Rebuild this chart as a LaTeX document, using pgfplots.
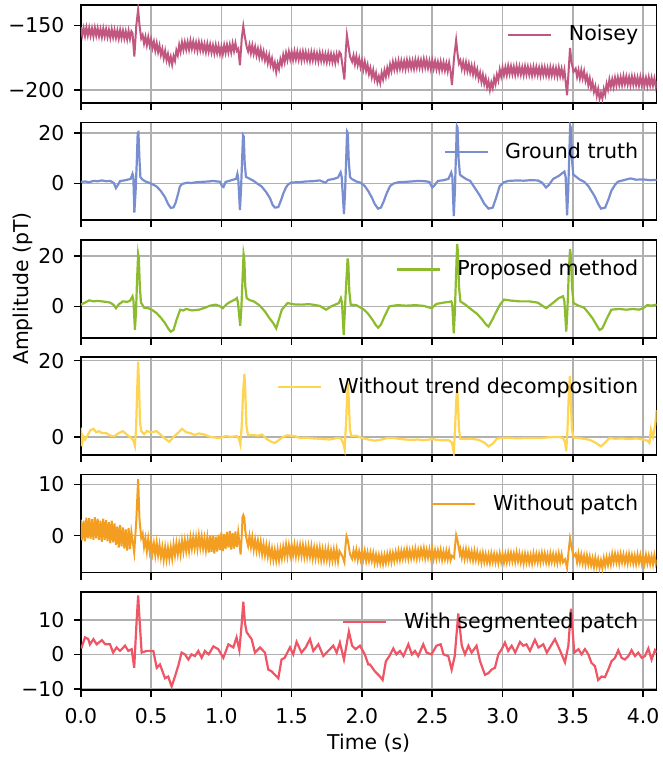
\documentclass[border=0pt]{standalone}
\usepackage{pgfplots}
\pgfplotsset{compat=1.18}
\usepackage{fontspec}
\setmainfont{DejaVu Sans}
\definecolor{cNoisy}{RGB}{193,87,128}
\definecolor{cGT}{RGB}{120,142,208}
\definecolor{cProp}{RGB}{140,188,45}
\definecolor{cTrend}{RGB}{255,212,80}
\definecolor{cPatch}{RGB}{243,158,32}
\definecolor{cSeg}{RGB}{239,85,101}
\definecolor{cGrid}{RGB}{176,176,176}
\pgfplotsset{
  panel/.style={
    scale only axis, width=288pt, height=49pt,
    xmin=0, xmax=4.096,
    xtick={0,0.5,1,1.5,2,2.5,3,3.5,4},
    xticklabels={},
    grid=major,
    major grid style={draw=cGrid, line width=0.8pt},
    axis line style={line width=0.8pt, black},
    tick align=outside, tick pos=left,
    major tick length=3.5pt,
    tick style={black, line width=0.8pt},
    yticklabel style={anchor=east, inner sep=0pt, xshift=-4.5pt},
    xticklabel style={anchor=north, inner sep=0pt, yshift=-5.5pt},
    legend style={at={(1,1)}, anchor=north east, xshift=-9pt, yshift=-10pt,
      draw=none, fill=none, inner sep=0pt, column sep=8.3pt,
      nodes={inner sep=0pt}, font=\fontsize{10.3}{12.4}\selectfont},
    legend image code/.code={\draw[#1] (0pt,0pt) -- (21.5pt,0pt);},
    every axis plot/.append style={line width=1.1pt},
    anchor=south west,
  }
}
\begin{document}
\fontsize{10.2}{12.2}\selectfont
\begin{tikzpicture}
\useasboundingbox (-40.4pt,-34.5pt) rectangle (291.15pt,345.1pt);
% Panel 1: Noisey
\begin{axis}[panel, at={(0pt,293.65pt)}, ymin=-209.8, ymax=-134.1, ytick={-200,-150}, yticklabels={−200,−150}]
\addplot[cNoisy, line width=1pt] coordinates {(0,-151.5)(0.01,-157.6)(0.02,-152.0)(0.03,-158.0)(0.04,-151.5)(0.05,-157.6)(0.06,-151.8)(0.07,-157.9)(0.08,-152.3)(0.09,-158.4)(0.1,-151.8)(0.11,-157.9)(0.12,-152.2)(0.13,-158.3)(0.14,-152.8)(0.15,-158.9)(0.16,-152.4)(0.17,-158.5)(0.18,-152.8)(0.19,-158.9)(0.2,-153.4)(0.21,-159.5)(0.22,-153.0)(0.23,-159.1)(0.24,-153.4)(0.25,-159.5)(0.26,-154.0)(0.27,-160.1)(0.28,-153.6)(0.29,-159.7)(0.3,-154.0)(0.31,-160.1)(0.32,-154.6)(0.33,-160.7)(0.34,-154.2)(0.35,-160.3)(0.36,-154.5)(0.368,-156)(0.381,-174)(0.395,-150)(0.408,-137.6)(0.418,-150)(0.43,-160)(0.44,-157.4)(0.45,-163.9)(0.46,-158.7)(0.47,-165.2)(0.48,-159.0)(0.49,-165.4)(0.5,-160.5)(0.51,-167.4)(0.52,-162.6)(0.53,-169.5)(0.54,-163.7)(0.55,-170.6)(0.56,-165.6)(0.57,-172.7)(0.58,-168.1)(0.59,-175.2)(0.6,-169.7)(0.61,-176.8)(0.62,-172.1)(0.63,-179.0)(0.64,-174.2)(0.65,-180.2)(0.66,-173.6)(0.67,-177.3)(0.68,-169.2)(0.69,-172.9)(0.7,-165.0)(0.71,-170.3)(0.72,-163.0)(0.73,-168.8)(0.74,-162.8)(0.75,-168.6)(0.76,-162.8)(0.77,-168.6)(0.78,-161.8)(0.79,-168.0)(0.8,-162.4)(0.81,-168.6)(0.82,-163.2)(0.83,-169.4)(0.84,-162.9)(0.85,-169.1)(0.86,-163.5)(0.87,-169.7)(0.88,-164.3)(0.89,-170.5)(0.9,-164.1)(0.91,-170.3)(0.92,-164.7)(0.93,-170.9)(0.94,-165.4)(0.95,-171.6)(0.96,-165.2)(0.97,-171.4)(0.98,-165.8)(0.99,-171.9)(1.0,-166.3)(1.01,-172.1)(1.02,-165.3)(1.03,-171.1)(1.04,-165.0)(1.05,-170.8)(1.06,-164.9)(1.07,-170.7)(1.08,-163.9)(1.09,-169.7)(1.1,-163.7)(1.11,-169.6)(1.12,-168)(1.132,-180.7)(1.145,-160)(1.156,-150.5)(1.166,-158)(1.18,-166.5)(1.19,-170.0)(1.2,-164.9)(1.21,-171.4)(1.22,-165.3)(1.23,-171.8)(1.24,-166.5)(1.25,-173.1)(1.26,-168.0)(1.27,-174.5)(1.28,-168.4)(1.29,-175.2)(1.3,-170.2)(1.31,-177.0)(1.32,-172.2)(1.33,-179.0)(1.34,-173.1)(1.35,-180.3)(1.36,-175.6)(1.37,-182.9)(1.38,-178.6)(1.39,-186.0)(1.4,-179.3)(1.41,-183.6)(1.42,-176.1)(1.43,-180.3)(1.44,-172.9)(1.45,-178.4)(1.46,-171.3)(1.47,-176.7)(1.48,-170.3)(1.49,-176.0)(1.5,-170.5)(1.51,-176.6)(1.52,-170.0)(1.53,-176.1)(1.54,-170.3)(1.55,-176.4)(1.56,-170.8)(1.57,-176.9)(1.58,-170.3)(1.59,-176.4)(1.6,-170.7)(1.61,-176.8)(1.62,-171.2)(1.63,-177.3)(1.64,-170.7)(1.65,-176.8)(1.66,-171.0)(1.67,-177.1)(1.68,-171.6)(1.69,-177.7)(1.7,-171.2)(1.71,-177.3)(1.72,-171.6)(1.73,-177.7)(1.74,-172.1)(1.75,-178.2)(1.76,-171.7)(1.77,-177.8)(1.78,-172.1)(1.79,-178.2)(1.8,-172.7)(1.81,-178.8)(1.82,-172.3)(1.83,-177.3)(1.84,-170.5)(1.85,-172)(1.875,-191.8)(1.885,-170)(1.893,-157.5)(1.903,-165)(1.915,-174)(1.93,-178.0)(1.94,-173.1)(1.95,-179.8)(1.96,-173.8)(1.97,-180.5)(1.98,-175.4)(1.99,-182.1)(2.0,-177.1)(2.01,-183.9)(2.02,-178.0)(2.03,-185.1)(2.04,-180.4)(2.05,-187.5)(2.06,-182.9)(2.07,-190.0)(2.08,-184.5)(2.09,-191.6)(2.1,-186.8)(2.11,-193.9)(2.12,-189.4)(2.13,-194.4)(2.14,-186.7)(2.15,-191.6)(2.16,-184.7)(2.17,-189.6)(2.18,-182.9)(2.19,-187.9)(2.2,-180.2)(2.21,-185.1)(2.22,-178.2)(2.23,-183.9)(2.24,-178.0)(2.25,-184.0)(2.26,-177.3)(2.27,-183.3)(2.28,-177.4)(2.29,-183.3)(2.3,-177.6)(2.31,-183.6)(2.32,-176.9)(2.33,-182.9)(2.34,-177.0)(2.35,-183.0)(2.36,-177.3)(2.37,-183.3)(2.38,-176.6)(2.39,-182.5)(2.4,-176.6)(2.41,-182.6)(2.42,-176.9)(2.43,-182.9)(2.44,-176.2)(2.45,-182.4)(2.46,-176.7)(2.47,-182.9)(2.48,-177.4)(2.49,-183.6)(2.5,-177.1)(2.51,-183.3)(2.52,-177.6)(2.53,-183.8)(2.54,-178.3)(2.55,-184.5)(2.56,-178.0)(2.57,-184.2)(2.58,-178.5)(2.59,-184.7)(2.6,-179.2)(2.61,-185.3)(2.62,-178.8)(2.63,-185.3)(2.64,-196)(2.655,-175)(2.67,-161.3)(2.68,-172)(2.69,-179.4)(2.7,-176.9)(2.71,-183.4)(2.72,-178.2)(2.73,-184.7)(2.74,-178.6)(2.75,-185.1)(2.76,-179.7)(2.77,-186.2)(2.78,-181.1)(2.79,-187.7)(2.8,-181.6)(2.81,-188.7)(2.82,-184.0)(2.83,-191.1)(2.84,-186.5)(2.85,-193.6)(2.86,-188.1)(2.87,-195.2)(2.88,-190.4)(2.89,-197.5)(2.9,-193.0)(2.91,-199.8)(2.92,-194.0)(2.93,-198.3)(2.94,-190.7)(2.95,-195.2)(2.96,-188.0)(2.97,-192.4)(2.98,-184.2)(2.99,-189.3)(3.0,-182.6)(3.01,-188.3)(3.02,-182.4)(3.03,-188.2)(3.04,-181.3)(3.05,-187.4)(3.06,-181.6)(3.07,-187.6)(3.08,-182.0)(3.09,-188.1)(3.1,-181.5)(3.11,-187.6)(3.12,-181.8)(3.13,-187.9)(3.14,-182.3)(3.15,-188.3)(3.16,-181.7)(3.17,-187.8)(3.18,-182.0)(3.19,-188.1)(3.2,-182.5)(3.21,-188.6)(3.22,-182.0)(3.23,-188.0)(3.24,-182.2)(3.25,-188.3)(3.26,-182.7)(3.27,-188.8)(3.28,-182.2)(3.29,-188.2)(3.3,-182.4)(3.31,-188.5)(3.32,-182.9)(3.33,-189.0)(3.34,-182.4)(3.35,-188.5)(3.36,-182.7)(3.37,-188.7)(3.38,-183.1)(3.39,-189.2)(3.4,-182.6)(3.41,-189.0)(3.42,-183.5)(3.43,-189.8)(3.44,-184.4)(3.459,-203.9)(3.47,-185)(3.48,-167.3)(3.49,-178)(3.505,-185.8)(3.52,-183.3)(3.53,-189.7)(3.54,-184.4)(3.55,-190.8)(3.56,-184.5)(3.57,-190.9)(3.58,-185.4)(3.59,-192.8)(3.6,-188.6)(3.61,-196.0)(3.62,-190.8)(3.63,-198.2)(3.64,-193.8)(3.65,-201.2)(3.66,-197.0)(3.67,-204.4)(3.68,-199.2)(3.69,-206.6)(3.7,-202.2)(3.71,-206.5)(3.72,-199.1)(3.73,-203.4)(3.74,-195.1)(3.75,-199.4)(3.76,-191.8)(3.77,-197.5)(3.78,-191.6)(3.79,-197.4)(3.8,-190.5)(3.81,-196.2)(3.82,-190.1)(3.83,-195.9)(3.84,-190.0)(3.85,-195.9)(3.86,-189.2)(3.87,-195.3)(3.88,-189.5)(3.89,-195.6)(3.9,-190.0)(3.91,-196.1)(3.92,-189.5)(3.93,-195.6)(3.94,-189.8)(3.95,-195.9)(3.96,-190.3)(3.97,-196.4)(3.98,-189.8)(3.99,-195.9)(4.0,-190.1)(4.01,-196.2)(4.02,-190.6)(4.03,-196.7)(4.04,-190.1)(4.05,-196.2)(4.06,-190.4)(4.07,-196.5)(4.08,-190.9)(4.09,-197.0)(4.096,-192.6)};
\addlegendentry{Noisey}
\end{axis}
% Panel 2: Ground truth
\begin{axis}[panel, at={(0pt,234.92pt)}, ymin=-14.5, ymax=24.1, ytick={0,20}, yticklabels={0,20}]
\addplot[cGT] coordinates {(0,0.6)(0.03,0.8)(0.06,0.5)(0.09,1.0)(0.12,0.9)(0.15,1.2)(0.18,0.9)(0.21,1.0)(0.235,0.2)(0.25,-1.8)(0.265,-0.5)(0.28,1.0)(0.31,1.2)(0.34,1.6)(0.355,1.8)(0.368,3.8)(0.374,2.5)(0.381,-11.5)(0.39,-3)(0.398,8)(0.405,20)(0.41,20.2)(0.417,10)(0.424,2.5)(0.44,1.5)(0.46,0.8)(0.48,0.4)(0.51,-0.3)(0.54,-1.2)(0.57,-3)(0.6,-5.5)(0.62,-8)(0.64,-9.6)(0.66,-9.4)(0.675,-7.5)(0.69,-4.5)(0.705,-1.2)(0.72,-0.2)(0.755,0.3)(0.79,0.2)(0.82,0.5)(0.85,0.6)(0.88,0.7)(0.91,0.8)(0.94,1.0)(0.97,0.8)(0.99,0.7)(1.005,-1.0)(1.015,-1.4)(1.03,0.6)(1.06,1.1)(1.09,1.6)(1.105,1.8)(1.114,3.8)(1.12,2.0)(1.132,-10.5)(1.14,-2)(1.148,10)(1.154,19)(1.159,18.5)(1.166,8)(1.175,2.6)(1.19,2.2)(1.23,1.0)(1.26,-0.2)(1.287,-1.2)(1.32,-3.5)(1.346,-5.8)(1.365,-8.5)(1.381,-9.5)(1.405,-9.3)(1.425,-6.5)(1.44,-4)(1.46,-1.5)(1.476,-0.3)(1.5,0.4)(1.55,0.5)(1.6,0.8)(1.65,0.9)(1.7,1.2)(1.74,0.3)(1.76,1.4)(1.8,1.8)(1.83,2.4)(1.848,4.4)(1.856,2.5)(1.872,-12)(1.88,-3)(1.888,10)(1.894,20.5)(1.899,20)(1.906,9)(1.915,2.5)(1.93,1.7)(1.96,0.8)(1.99,0.3)(2.02,-1)(2.045,-3)(2.07,-5.5)(2.09,-8)(2.114,-9.9)(2.135,-9.5)(2.155,-7)(2.175,-4)(2.2,-1)(2.225,0)(2.26,0.5)(2.3,0.6)(2.35,0.8)(2.4,1.0)(2.45,0.9)(2.48,0.6)(2.5,-1.6)(2.515,-0.8)(2.54,1.0)(2.58,1.3)(2.615,1.8)(2.635,4.3)(2.643,2.5)(2.653,-12.8)(2.661,-3)(2.669,12)(2.675,22.6)(2.68,22)(2.687,10)(2.697,3.5)(2.707,3)(2.74,1.8)(2.77,1.0)(2.8,-1.5)(2.84,-4.9)(2.87,-8)(2.9,-9.9)(2.93,-9.5)(2.955,-5.5)(2.98,-1)(3.01,0.5)(3.04,1.0)(3.1,1.2)(3.15,1.1)(3.2,1.3)(3.25,1.2)(3.28,0.4)(3.31,-1.6)(3.33,-0.5)(3.36,1.8)(3.4,3)(3.44,4.7)(3.449,2.5)(3.459,-12.5)(3.467,-3)(3.475,12)(3.481,22.8)(3.486,22)(3.493,10)(3.503,3.5)(3.515,3)(3.55,1.5)(3.58,0.7)(3.61,-1)(3.654,-4.9)(3.68,-8)(3.7,-9.9)(3.73,-9.5)(3.755,-6)(3.774,-2.9)(3.8,-0.5)(3.82,0.7)(3.86,1.3)(3.91,2.0)(3.95,1.5)(4.0,1.6)(4.05,1.3)(4.096,1.4)};
\addlegendentry{Ground truth}
\end{axis}
% Panel 3: Proposed method
\begin{axis}[panel, at={(0pt,176.19pt)}, ymin=-12.4, ymax=26.4, ytick={0,20}, yticklabels={0,20},
  ylabel={Amplitude (pT)}, ylabel style={at={([xshift=-29.2pt]axis description cs:0,0.5)}, anchor=center}]
\addplot[cProp] coordinates {(0,0.7)(0.03,1.5)(0.06,2.4)(0.09,2.0)(0.12,2.2)(0.15,2.0)(0.18,1.8)(0.21,1.5)(0.235,0.5)(0.25,-0.7)(0.27,0.8)(0.3,2.0)(0.33,1.8)(0.35,2.2)(0.368,4.0)(0.375,2)(0.385,-9.3)(0.393,-2)(0.4,10)(0.408,20.7)(0.413,19)(0.42,8)(0.428,1.6)(0.45,-0.5)(0.48,-0.7)(0.51,-1.5)(0.54,-2.7)(0.57,-4.5)(0.6,-6.7)(0.625,-9)(0.64,-10)(0.66,-9.3)(0.68,-5.5)(0.707,-1.3)(0.73,-1.6)(0.75,-1.0)(0.79,-1.6)(0.84,-1.3)(0.88,-0.6)(0.92,0.3)(0.96,0.7)(0.985,0.2)(1.01,-0.7)(1.04,1.0)(1.07,2.0)(1.1,2.8)(1.11,3.3)(1.118,1.5)(1.134,-7.7)(1.142,-1)(1.15,10)(1.158,20.7)(1.163,19)(1.17,8)(1.18,3.3)(1.2,2.5)(1.23,2.0)(1.27,0.5)(1.31,-2)(1.34,-4.5)(1.37,-6.7)(1.39,-8.7)(1.41,-5)(1.43,-1.3)(1.47,1.3)(1.52,0.8)(1.57,0.7)(1.62,0.9)(1.65,0.7)(1.7,0.2)(1.745,-1.3)(1.78,0)(1.835,1.3)(1.85,3.3)(1.858,1.5)(1.87,-11.3)(1.878,-2)(1.887,8)(1.898,19)(1.903,17)(1.91,6)(1.92,0.7)(1.96,0.5)(2.015,-1.3)(2.045,-3)(2.075,-5.3)(2.1,-7.5)(2.115,-8.4)(2.135,-7.2)(2.16,-4)(2.195,0)(2.25,0.5)(2.316,0.3)(2.38,0.5)(2.44,0.2)(2.496,-0.7)(2.53,1.0)(2.58,1.5)(2.62,1.8)(2.635,2.0)(2.642,1.0)(2.653,-10.7)(2.661,-2)(2.669,12)(2.677,24.7)(2.682,22)(2.69,8)(2.7,2)(2.74,0.5)(2.78,-1.3)(2.82,-3)(2.857,-5.3)(2.88,-7)(2.9,-8)(2.925,-5.5)(2.95,-2.7)(2.98,0.5)(3.01,2.7)(3.06,2.3)(3.12,2.0)(3.19,2.0)(3.25,1.5)(3.31,-0.7)(3.35,1.0)(3.4,3.3)(3.43,4.0)(3.44,2)(3.453,-10)(3.461,-2)(3.47,12)(3.48,22.7)(3.486,20)(3.494,8)(3.505,1.3)(3.54,0.3)(3.58,-0.5)(3.61,-2.5)(3.64,-4.7)(3.67,-7.5)(3.69,-9.3)(3.71,-8.7)(3.74,-5)(3.774,-1.3)(3.83,-1.0)(3.88,-1.3)(3.93,-1.0)(3.97,-1.3)(4.0,-0.7)(4.03,0.5)(4.06,0.3)(4.096,0.7)};
\addlegendentry{Proposed method}
\end{axis}
% Panel 4: Without trend decomposition
\begin{axis}[panel, at={(0pt,117.46pt)}, ymin=-4.8, ymax=20.9, ytick={0,20}, yticklabels={0,20}]
\addplot[cTrend] coordinates {(0,2.4)(0.008,-2.5)(0.016,0.2)(0.03,-0.7)(0.05,0.5)(0.07,1.8)(0.09,2.1)(0.11,1.2)(0.13,1.5)(0.15,1.0)(0.18,1.0)(0.21,0.3)(0.24,0.2)(0.27,1.0)(0.3,1.5)(0.33,0.5)(0.36,-0.3)(0.375,-1)(0.385,-2.3)(0.393,2)(0.401,12)(0.408,19.7)(0.414,14)(0.421,4)(0.43,1.5)(0.45,0.7)(0.47,1.5)(0.5,1.2)(0.54,1.5)(0.57,0.5)(0.6,-0.5)(0.63,-1.3)(0.66,0.0)(0.69,1.0)(0.72,2.1)(0.75,1.2)(0.78,1.0)(0.81,0.5)(0.84,0.9)(0.88,0.6)(0.92,0.0)(0.96,-0.2)(0.99,-0.3)(1.03,0.2)(1.07,0.0)(1.11,0.2)(1.125,-0.5)(1.135,-2.0)(1.145,3)(1.155,12)(1.164,16.5)(1.17,12)(1.178,3)(1.19,0.4)(1.22,0.5)(1.26,0.3)(1.29,0.6)(1.32,-0.5)(1.35,-1.2)(1.38,-1.6)(1.41,-0.8)(1.44,0.0)(1.47,0.4)(1.52,0.2)(1.56,-0.3)(1.6,-0.2)(1.65,-0.4)(1.7,-0.5)(1.77,-0.7)(1.82,-0.3)(1.85,-0.4)(1.865,-1.5)(1.877,-3.3)(1.886,3)(1.894,10)(1.9,14.3)(1.906,10)(1.914,2)(1.925,0.2)(1.96,0.3)(2.0,-0.3)(2.045,-0.7)(2.09,-1.0)(2.13,-0.8)(2.18,-0.3)(2.225,-0.3)(2.28,-0.6)(2.34,-0.8)(2.4,-0.7)(2.436,-0.9)(2.5,-0.6)(2.56,-0.9)(2.617,-0.9)(2.64,-1.5)(2.653,-4.0)(2.662,2)(2.67,9)(2.677,13)(2.683,9)(2.69,2)(2.7,-0.5)(2.73,-0.6)(2.78,-0.5)(2.83,-0.8)(2.87,-1.5)(2.9,-2.5)(2.93,-1.8)(2.96,-0.5)(2.98,-0.3)(3.04,-0.2)(3.1,-0.4)(3.16,-0.3)(3.22,-0.3)(3.28,-0.3)(3.33,-0.1)(3.4,0.0)(3.43,-0.3)(3.445,-1.5)(3.453,-3.8)(3.462,2)(3.47,10)(3.479,16)(3.485,11)(3.493,2)(3.505,-0.2)(3.54,-0.3)(3.58,-0.5)(3.62,-0.8)(3.66,-1.5)(3.7,-2.5)(3.73,-1.5)(3.76,-0.3)(3.8,-0.5)(3.85,-0.4)(3.9,-0.6)(3.95,-0.4)(4.0,-0.7)(4.03,-1.0)(4.045,-1.6)(4.055,1.9)(4.07,0)(4.085,3)(4.096,7.0)};
\addlegendentry{Without trend decomposition}
\end{axis}
% Panel 5: Without patch
\begin{axis}[panel, at={(0pt,58.73pt)}, ymin=-7.2, ymax=11.9, ytick={0,10}, yticklabels={0,10}]
\addplot[cPatch, line width=1pt] coordinates {(0,3.1)(0.01,-0.9)(0.02,2.9)(0.03,-1.1)(0.04,3.5)(0.05,-0.5)(0.06,3.4)(0.07,-0.6)(0.08,3.2)(0.09,-0.8)(0.1,3.6)(0.11,-0.5)(0.12,3.3)(0.13,-0.8)(0.14,2.9)(0.15,-1.2)(0.16,3.3)(0.17,-0.8)(0.18,3.0)(0.19,-1.1)(0.2,2.6)(0.21,-1.5)(0.22,2.9)(0.23,-1.3)(0.24,2.4)(0.25,-1.8)(0.26,1.8)(0.27,-2.3)(0.28,2.1)(0.29,-2.1)(0.3,1.6)(0.31,-2.5)(0.32,1.2)(0.33,-2.9)(0.34,1.5)(0.35,-2.6)(0.36,0.7)(0.38,-3.3)(0.395,3)(0.408,11)(0.418,3)(0.43,-0.4)(0.44,0.4)(0.45,-2.2)(0.46,-0.5)(0.47,-3.0)(0.48,-0.6)(0.49,-3.0)(0.5,-1.0)(0.51,-3.4)(0.52,-1.5)(0.53,-3.8)(0.54,-1.4)(0.55,-3.8)(0.56,-1.8)(0.57,-4.2)(0.58,-2.3)(0.59,-4.7)(0.6,-2.3)(0.61,-4.6)(0.62,-2.4)(0.63,-4.5)(0.64,-2.3)(0.65,-4.4)(0.66,-1.7)(0.67,-3.8)(0.68,-1.5)(0.69,-3.6)(0.7,-1.5)(0.71,-3.6)(0.72,-1.0)(0.73,-3.1)(0.74,-0.9)(0.75,-3.0)(0.76,-0.9)(0.77,-3.0)(0.78,-0.4)(0.79,-2.5)(0.8,-0.3)(0.81,-2.4)(0.82,-0.3)(0.83,-2.5)(0.84,0.0)(0.85,-2.3)(0.86,-0.2)(0.87,-2.5)(0.88,-0.5)(0.89,-2.8)(0.9,-0.4)(0.91,-3.3)(0.92,-0.1)(0.93,-3.2)(0.94,0.0)(0.95,-3.5)(0.96,-0.2)(0.97,-3.1)(0.98,0.2)(0.99,-2.8)(1.0,0.6)(1.01,-3.0)(1.02,0.3)(1.03,-2.6)(1.04,0.7)(1.05,-2.3)(1.06,0.9)(1.07,-2.7)(1.08,0.5)(1.09,-2.5)(1.1,0.8)(1.11,-2.2)(1.12,0.6)(1.137,-3.7)(1.147,1)(1.15,3.5)(1.156,4)(1.163,3.5)(1.17,1)(1.18,-0.8)(1.19,-2.0)(1.2,-0.1)(1.21,-2.2)(1.22,-0.3)(1.23,-2.7)(1.24,-0.8)(1.25,-2.9)(1.26,-1.0)(1.27,-3.1)(1.28,-1.2)(1.29,-3.6)(1.3,-1.7)(1.31,-3.8)(1.32,-1.9)(1.33,-4.0)(1.34,-2.1)(1.35,-4.5)(1.36,-2.6)(1.37,-4.7)(1.38,-2.8)(1.39,-4.8)(1.4,-2.7)(1.41,-4.8)(1.42,-2.6)(1.43,-4.4)(1.44,-2.2)(1.45,-4.0)(1.46,-1.8)(1.47,-4.0)(1.48,-1.9)(1.49,-3.8)(1.5,-1.8)(1.51,-3.8)(1.52,-1.8)(1.53,-4.0)(1.54,-2.0)(1.55,-3.9)(1.56,-1.9)(1.57,-3.9)(1.58,-1.9)(1.59,-4.1)(1.6,-2.1)(1.61,-4.1)(1.62,-2.1)(1.63,-4.1)(1.64,-2.1)(1.65,-4.4)(1.66,-2.4)(1.67,-4.4)(1.68,-2.4)(1.69,-4.4)(1.7,-2.4)(1.71,-4.7)(1.72,-2.7)(1.73,-4.7)(1.74,-2.7)(1.75,-4.6)(1.76,-2.6)(1.77,-4.9)(1.78,-2.9)(1.79,-4.8)(1.8,-2.8)(1.81,-4.8)(1.82,-2.8)(1.83,-5.0)(1.84,-3.0)(1.86,-4.0)(1.875,-5.2)(1.883,-2)(1.89,-0.1)(1.9,-1)(1.915,-3.6)(1.93,-4.5)(1.94,-2.9)(1.95,-4.4)(1.96,-2.8)(1.97,-4.7)(1.98,-3.1)(1.99,-4.6)(2.0,-3.0)(2.01,-4.6)(2.02,-3.0)(2.03,-4.9)(2.04,-3.3)(2.05,-4.9)(2.06,-3.3)(2.07,-4.9)(2.08,-3.4)(2.09,-5.3)(2.1,-3.7)(2.11,-5.3)(2.12,-3.8)(2.13,-5.4)(2.14,-3.8)(2.15,-5.5)(2.16,-3.8)(2.17,-5.3)(2.18,-3.6)(2.19,-5.1)(2.2,-3.4)(2.21,-5.1)(2.22,-3.4)(2.23,-4.9)(2.24,-3.2)(2.25,-4.7)(2.26,-3.0)(2.27,-4.7)(2.28,-3.0)(2.29,-4.5)(2.3,-2.9)(2.31,-4.4)(2.32,-2.7)(2.33,-4.5)(2.34,-2.9)(2.35,-4.4)(2.36,-2.8)(2.37,-4.3)(2.38,-2.6)(2.39,-4.4)(2.4,-2.8)(2.41,-4.3)(2.42,-2.6)(2.43,-4.1)(2.44,-2.5)(2.45,-4.4)(2.46,-2.8)(2.47,-4.3)(2.48,-2.7)(2.49,-4.3)(2.5,-2.7)(2.51,-4.5)(2.52,-2.9)(2.53,-4.5)(2.54,-2.9)(2.55,-4.4)(2.56,-2.8)(2.57,-4.7)(2.58,-3.1)(2.59,-4.6)(2.6,-3.0)(2.61,-4.6)(2.62,-3.0)(2.63,-4.8)(2.64,-3.9)(2.655,-4.3)(2.662,-2)(2.67,0.1)(2.68,-1)(2.695,-3.4)(2.7,-2.7)(2.71,-4.3)(2.72,-2.8)(2.73,-4.5)(2.74,-2.7)(2.75,-4.4)(2.76,-2.9)(2.77,-4.6)(2.78,-3.1)(2.79,-4.8)(2.8,-3.0)(2.81,-4.7)(2.82,-3.2)(2.83,-4.9)(2.84,-3.5)(2.85,-5.2)(2.86,-3.4)(2.87,-5.1)(2.88,-3.6)(2.89,-5.2)(2.9,-3.7)(2.91,-5.3)(2.92,-3.5)(2.93,-5.1)(2.94,-3.6)(2.95,-5.2)(2.96,-3.7)(2.97,-5.3)(2.98,-3.5)(2.99,-5.1)(3.0,-3.6)(3.01,-5.2)(3.02,-3.6)(3.03,-5.2)(3.04,-3.4)(3.05,-5.0)(3.06,-3.4)(3.07,-5.0)(3.08,-3.5)(3.09,-5.1)(3.1,-3.3)(3.11,-5.0)(3.12,-3.5)(3.13,-5.2)(3.14,-3.7)(3.15,-5.4)(3.16,-3.6)(3.17,-5.2)(3.18,-3.7)(3.19,-5.3)(3.2,-3.8)(3.21,-5.4)(3.22,-3.5)(3.23,-5.1)(3.24,-3.6)(3.25,-5.2)(3.26,-3.6)(3.27,-5.2)(3.28,-3.4)(3.29,-5.0)(3.3,-3.5)(3.31,-5.2)(3.32,-3.7)(3.33,-5.3)(3.34,-3.5)(3.35,-5.1)(3.36,-3.6)(3.37,-5.2)(3.38,-3.7)(3.39,-5.3)(3.4,-3.5)(3.41,-5.1)(3.42,-3.6)(3.43,-5.2)(3.445,-4.6)(3.459,-6.3)(3.47,-3)(3.48,-0.5)(3.49,-2)(3.505,-4.1)(3.52,-3.5)(3.53,-5.2)(3.54,-3.5)(3.55,-5.2)(3.56,-3.7)(3.57,-5.4)(3.58,-3.9)(3.59,-5.6)(3.6,-3.9)(3.61,-5.6)(3.62,-4.1)(3.63,-5.8)(3.64,-4.4)(3.65,-6.1)(3.66,-4.3)(3.67,-6.0)(3.68,-4.6)(3.69,-6.3)(3.7,-4.8)(3.71,-6.3)(3.72,-4.4)(3.73,-5.9)(3.74,-4.2)(3.75,-5.7)(3.76,-4.1)(3.77,-5.6)(3.78,-3.6)(3.79,-5.2)(3.8,-3.6)(3.81,-5.2)(3.82,-3.7)(3.83,-5.4)(3.84,-3.6)(3.85,-5.2)(3.86,-3.7)(3.87,-5.3)(3.88,-3.8)(3.89,-5.4)(3.9,-3.6)(3.91,-5.2)(3.92,-3.8)(3.93,-5.4)(3.94,-3.9)(3.95,-5.5)(3.96,-3.7)(3.97,-5.3)(3.98,-3.8)(3.99,-5.4)(4.0,-3.9)(4.01,-5.5)(4.02,-3.8)(4.03,-5.4)(4.04,-3.9)(4.05,-5.5)(4.06,-4.0)(4.07,-5.6)(4.08,-3.8)(4.09,-5.4)(4.096,-4.7)};
\addlegendentry{Without patch}
\end{axis}
% Panel 6: With segmented patch
\begin{axis}[panel, at={(0pt,0pt)}, ymin=-10.3, ymax=18, ytick={-10,0,10}, yticklabels={−10,0,10},
  xticklabels={0.0,0.5,1.0,1.5,2.0,2.5,3.0,3.5,4.0},
  xlabel={Time (s)}, xlabel style={at={([yshift=-26.5pt]axis description cs:0.5,0)}, anchor=center}]
\addplot[cSeg] coordinates {(0,2.0)(0.006,2.0)(0.03,4.9)(0.053,4.4)(0.065,2.9)(0.09,4.4)(0.113,2.9)(0.15,4.1)(0.175,2.9)(0.208,2.9)(0.23,0.5)(0.255,2.0)(0.279,1.0)(0.315,2.5)(0.338,1.0)(0.362,1.5)(0.38,-3.9)(0.395,8)(0.408,17)(0.418,10)(0.433,0.5)(0.468,1.0)(0.516,1.0)(0.54,-3.9)(0.563,-2.9)(0.599,-6.9)(0.622,-6.4)(0.646,-9.3)(0.67,-6.4)(0.694,-3.2)(0.717,0.5)(0.741,0.0)(0.765,-1.5)(0.788,0.0)(0.812,-0.5)(0.836,1.0)(0.86,-1.0)(0.883,1.0)(0.91,0.0)(0.943,2.3)(0.978,1.5)(1.014,-1.0)(1.05,2.9)(1.085,2.0)(1.108,4.9)(1.128,1.2)(1.145,9)(1.156,15.2)(1.168,9)(1.18,6.4)(1.215,4.4)(1.239,0.5)(1.275,2.0)(1.31,0.5)(1.334,-4.4)(1.357,-4.9)(1.381,-5.9)(1.405,-6.9)(1.428,-1.5)(1.45,-1.0)(1.488,2.0)(1.511,0.0)(1.535,3.6)(1.57,0.5)(1.6,2.0)(1.63,4.4)(1.654,1.0)(1.69,2.9)(1.725,-0.5)(1.76,1.0)(1.796,2.5)(1.82,0.5)(1.843,3.4)(1.872,-1.5)(1.907,6.6)(1.93,2.5)(1.955,1.5)(1.986,2.5)(2.02,0.0)(2.045,-2.9)(2.057,-2.9)(2.092,-4.9)(2.128,-6.4)(2.147,-7.4)(2.17,-2.0)(2.195,-0.5)(2.223,1.7)(2.245,0.0)(2.27,1.0)(2.295,-0.5)(2.33,2.9)(2.355,0.0)(2.377,1.0)(2.4,-0.5)(2.436,2.9)(2.46,0.5)(2.495,0.0)(2.53,2.5)(2.56,2.9)(2.58,0.0)(2.614,-0.5)(2.638,-4.4)(2.66,-0.5)(2.685,11.8)(2.71,2.5)(2.733,0.0)(2.757,2.5)(2.78,0.5)(2.815,2.5)(2.84,-2.0)(2.875,-5.9)(2.9,-5.4)(2.922,-4.4)(2.946,-3.9)(2.97,0.0)(2.994,1.5)(3.017,3.4)(3.04,1.0)(3.065,2.5)(3.09,0.5)(3.124,3.6)(3.147,2.5)(3.17,2.9)(3.195,1.0)(3.23,4.2)(3.255,2.0)(3.29,2.9)(3.315,0.5)(3.35,2.9)(3.373,4.4)(3.41,1.0)(3.444,-2.3)(3.468,2.5)(3.487,13.2)(3.51,0.5)(3.54,1.5)(3.562,0.0)(3.586,1.5)(3.61,0.0)(3.633,-2.5)(3.657,-3.4)(3.68,-7.4)(3.704,-6.4)(3.728,-6.6)(3.752,-4.4)(3.775,-2.0)(3.8,-1.0)(3.823,1.2)(3.847,-1.0)(3.87,-1.5)(3.895,-0.5)(3.918,1.2)(3.942,-0.5)(3.965,0.5)(3.99,-1.0)(4.013,-0.5)(4.037,1.7)(4.06,-1.5)(4.084,1.2)(4.096,0.5)};
\addlegendentry{With segmented patch}
\end{axis}
\end{tikzpicture}
\end{document}
